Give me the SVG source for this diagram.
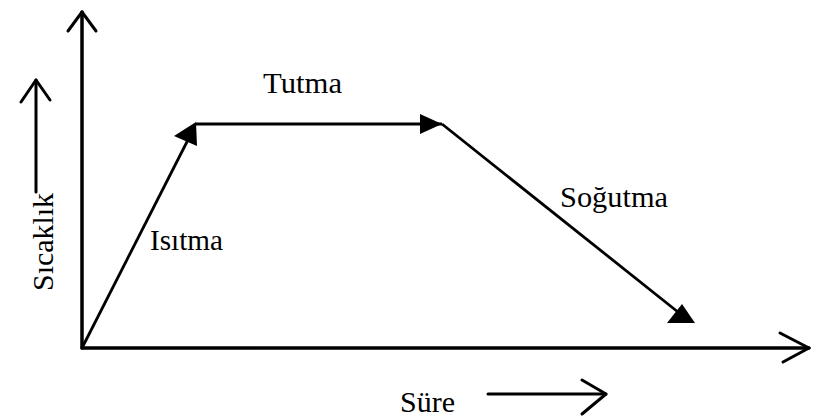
<svg xmlns="http://www.w3.org/2000/svg" width="825" height="420" viewBox="0 0 825 420">
<style>
.ax{stroke:#000;stroke-width:3.5;fill:none;stroke-linecap:round;stroke-linejoin:round}
.ln{stroke:#000;stroke-width:2.8;fill:none}
.open{stroke:#000;stroke-width:3;fill:none;stroke-linecap:round;stroke-linejoin:round}
.head{fill:#000}
text{font-family:"Liberation Serif","DejaVu Serif",serif;font-size:29px;fill:#000}
</style>
<rect width="825" height="420" fill="#fff"/>
<g id="axes">
<path class="ax" d="M82,348 L82,12"/>
<path class="open" d="M68,31 L82,12 L96,31"/>
<path class="ax" d="M82,348 L809,348"/>
<path class="open" d="M780,333 L809,348 L783,362"/>
</g>
<g id="connectors">
<path class="ln" d="M82,348 L194,128"/>
<path class="head" d="M174,136 L196,122 L197,146 Z"/>
<path class="ln" d="M196,124 L442,124"/>
<path class="head" d="M420,114 L442,124 L420,134 Z"/>
<path class="ln" d="M442,124 L688,320"/>
<path class="head" d="M667,323 L682,304 L695,323 Z"/>
</g>
<g id="label-sicaklik">
<path class="ax" d="M36,192 L36,80" style="stroke-width:3"/>
<path class="open" d="M21,102 L36,80 L50,100"/>
<text transform="translate(53,291) rotate(-90)" textLength="98" lengthAdjust="spacingAndGlyphs">Sıcaklık</text>
</g>
<g id="label-sure">
<text x="400" y="412" textLength="55" lengthAdjust="spacingAndGlyphs">Süre</text>
<path class="ax" d="M488,394 L606,394" style="stroke-width:3"/>
<path class="open" d="M582,380 L606,394 L582,414"/>
</g>
<g id="label-isitma"><text x="150" y="250" textLength="73" lengthAdjust="spacingAndGlyphs">Isıtma</text></g>
<g id="label-tutma"><text x="263" y="93" textLength="79" lengthAdjust="spacingAndGlyphs">Tutma</text></g>
<g id="label-sogutma"><text x="560" y="207" textLength="108" lengthAdjust="spacingAndGlyphs">Soğutma</text></g>
</svg>
